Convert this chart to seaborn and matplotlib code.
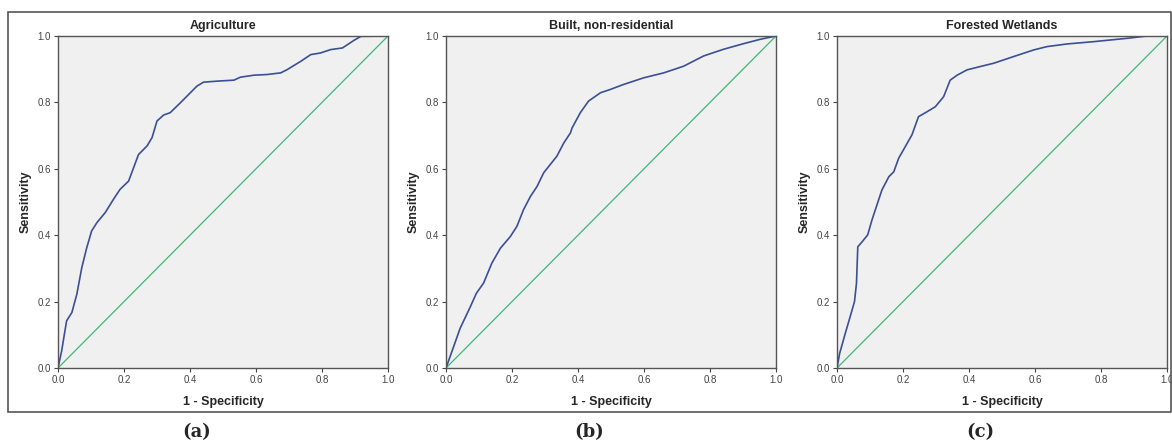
import numpy as np
import pandas as pd
import seaborn as sns
from matplotlib import pyplot as plt
from matplotlib.patches import Rectangle

# ROC curve points (1 - specificity, sensitivity)
agri_x = [0, 0.011, 0.026, 0.042, 0.057, 0.072, 0.087, 0.102, 0.118, 0.143, 0.168, 0.188,
          0.214, 0.229, 0.244, 0.270, 0.285, 0.300, 0.320, 0.340, 0.371, 0.396, 0.421, 0.441,
          0.482, 0.533, 0.553, 0.594, 0.634, 0.675, 0.695, 0.736, 0.766, 0.796, 0.826, 0.862,
          0.897, 0.918, 1.0]
agri_y = [0, 0.051, 0.142, 0.167, 0.222, 0.302, 0.362, 0.413, 0.438, 0.468, 0.508, 0.538,
          0.563, 0.603, 0.643, 0.669, 0.694, 0.744, 0.762, 0.769, 0.799, 0.824, 0.849, 0.861,
          0.864, 0.867, 0.876, 0.882, 0.884, 0.889, 0.899, 0.924, 0.944, 0.949, 0.959, 0.964,
          0.987, 0.999, 1.0]

built_x = [0, 0.023, 0.043, 0.074, 0.092, 0.114, 0.139, 0.165, 0.195, 0.215, 0.235, 0.256,
           0.276, 0.296, 0.316, 0.336, 0.357, 0.377, 0.382, 0.407, 0.432, 0.468, 0.498, 0.538,
           0.599, 0.660, 0.720, 0.781, 0.841, 0.902, 0.952, 1.0]
built_y = [0, 0.064, 0.120, 0.185, 0.225, 0.256, 0.316, 0.361, 0.396, 0.427, 0.477, 0.517,
           0.547, 0.588, 0.613, 0.638, 0.678, 0.708, 0.723, 0.769, 0.804, 0.829, 0.839, 0.854,
           0.874, 0.889, 0.909, 0.940, 0.960, 0.977, 0.990, 1.0]

fw_x = [0, 0.008, 0.025, 0.040, 0.053, 0.059, 0.063, 0.076, 0.093, 0.106, 0.121, 0.136,
        0.157, 0.172, 0.187, 0.207, 0.227, 0.247, 0.273, 0.298, 0.323, 0.343, 0.364, 0.394,
        0.434, 0.475, 0.535, 0.596, 0.636, 0.697, 0.778, 0.879, 0.939, 1.0]
fw_y = [0, 0.044, 0.104, 0.155, 0.200, 0.255, 0.365, 0.380, 0.401, 0.446, 0.491, 0.536,
        0.576, 0.591, 0.632, 0.667, 0.702, 0.757, 0.772, 0.787, 0.817, 0.867, 0.882, 0.898,
        0.908, 0.918, 0.938, 0.958, 0.968, 0.976, 0.983, 0.993, 1.0, 1.0]

titles = ["Agriculture", "Built, non-residential", "Forested Wetlands"]
captions = ["(a)", "(b)", "(c)"]
ref_line = [0, 1]

sns.set_style("ticks")
plt.rcParams['font.family'] = ['Liberation Sans', 'DejaVu Sans']

fig = plt.figure(figsize=(11.72, 4.46), dpi=100)

# outer frame round the three panels
fig.patches.append(Rectangle((8 / 1172, 1 - 412 / 446), 1163 / 1172, 400 / 446,
                             transform=fig.transFigure, fill=False,
                             edgecolor="#555555", linewidth=1.2))

lefts = [58, 446, 837]
curves = [(agri_x, agri_y), (built_x, built_y), (fw_x, fw_y)]
cap_x = [197, 589, 980]

for i, (xs, ys) in enumerate(curves):
    ax = fig.add_axes([lefts[i] / 1172, 1 - 368 / 446, 330 / 1172, 332 / 446])
    ax.set_facecolor("#f0f0f0")
    df = pd.DataFrame({"x": xs, "y": ys})
    sns.lineplot(x=ref_line, y=ref_line, ax=ax, color="#3cb878", linewidth=0.9)
    sns.lineplot(data=df, x="x", y="y", ax=ax, color="#3a4f96", linewidth=1.2,
                 sort=False, estimator=None)
    ax.set_xlim(0, 1)
    ax.set_ylim(0, 1)
    ax.set_xticks(np.arange(0, 1.01, 0.2))
    ax.set_yticks(np.arange(0, 1.01, 0.2))
    ax.set_xticklabels(["0.0", "0.2", "0.4", "0.6", "0.8", "1.0"])
    ax.set_yticklabels(["0.0", "0.2", "0.4", "0.6", "0.8", "1.0"])
    ax.tick_params(labelsize=7, colors="#444444", length=3, width=0.8, pad=2)
    for s in ax.spines.values():
        s.set_visible(True)
        s.set_color("#555555")
        s.set_linewidth(1.0)
    ax.set_xlabel("1 - Specificity", fontsize=9, fontweight="bold", labelpad=8)
    ax.set_ylabel("Sensitivity", fontsize=9, fontweight="bold", labelpad=4)
    ax.set_title(titles[i], fontsize=9, fontweight="bold", pad=5)
    fig.text(cap_x[i] / 1172, 1 - 432 / 446, captions[i], ha="center", va="center",
             fontsize=13, fontweight="bold", family=["DejaVu Serif"])

plt.savefig("out.png", dpi=100)
